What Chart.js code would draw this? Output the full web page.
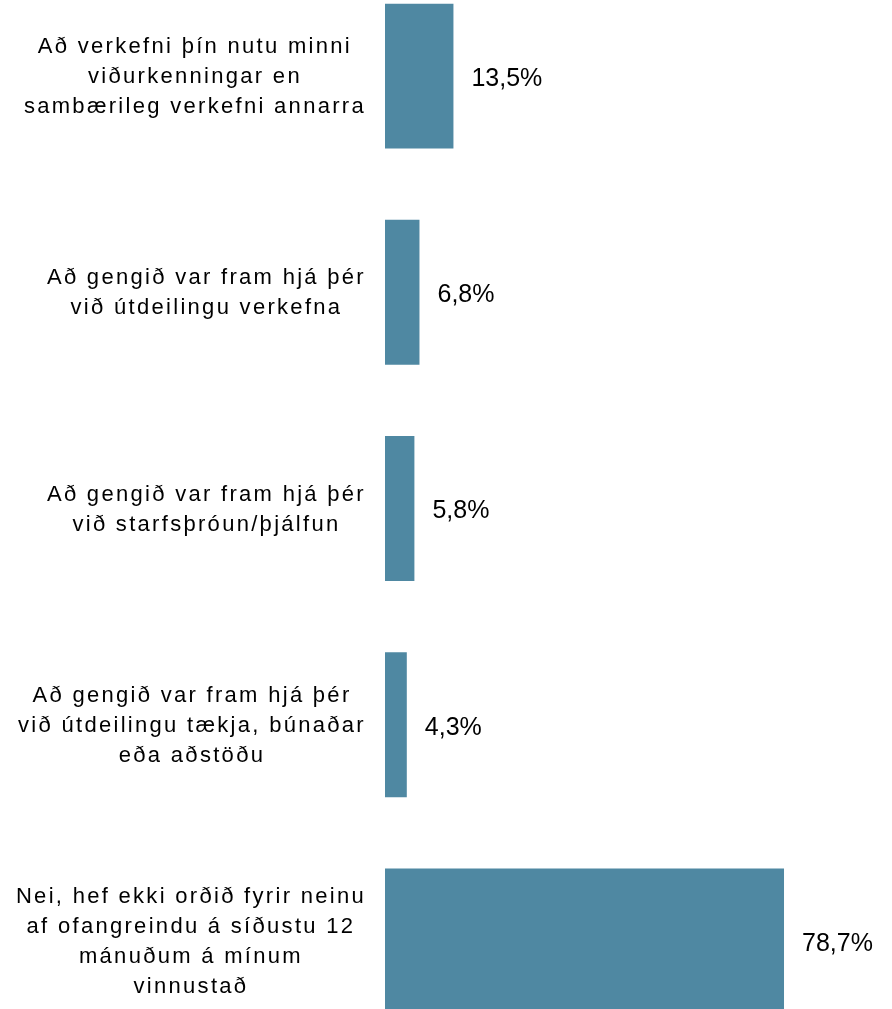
<!DOCTYPE html>
<html>
<head>
<meta charset="utf-8">
<script src="https://cdn.jsdelivr.net/npm/chart.js@4.4.1/dist/chart.umd.min.js"></script>
<style>
  html, body { margin: 0; padding: 0; background: #fff; overflow: hidden; }
  #wrap { position: absolute; left: 0; top: -32px; width: 892px; height: 1081px; }
</style>
</head>
<body>
<div id="wrap"><canvas id="chart"></canvas></div>
<script>
// categories, one array of lines per bar
const labels = [
  ['Að verkefni þín nutu minni', 'viðurkenningar en', 'sambærileg verkefni annarra'],
  ['Að gengið var fram hjá þér', 'við útdeilingu verkefna'],
  ['Að gengið var fram hjá þér', 'við starfsþróun/þjálfun'],
  ['Að gengið var fram hjá þér', 'við útdeilingu tækja, búnaðar', 'eða aðstöðu'],
  ['Nei, hef ekki orðið fyrir neinu', 'af ofangreindu á síðustu 12', 'mánuðum á mínum', 'vinnustað']
]
const values = [13.5, 6.8, 5.8, 4.3, 78.7]

const barColor = '#4f88a2'

function formatPct(v) {
  return v.toFixed(1).replace('.', ',') + '%'
}

// draws the category text (centered block, right edge near the bars) and value labels
const textPlugin = {
  id: 'textPlugin',
  afterDatasetsDraw(chart) {
    const ctx = chart.ctx
    const yScale = chart.scales.y
    const meta = chart.getDatasetMeta(0)
    ctx.save()
    ctx.fillStyle = '#000'
    ctx.textBaseline = 'middle'

    // category labels
    ctx.font = '22px "Liberation Sans", Arial, sans-serif'
    ctx.letterSpacing = '2.3px'
    ctx.textAlign = 'center'
    const lineHeight = 30
    labels.forEach((lines, i) => {
      const yc = yScale.getPixelForValue(i) + 1
      const widest = Math.max(...lines.map(l => ctx.measureText(l).width))
      const xc = yScale.right - 19 - widest / 2
      lines.forEach((line, j) => {
        ctx.fillText(line, xc, yc + (j - (lines.length - 1) / 2) * lineHeight)
      })
    })

    // value labels
    ctx.letterSpacing = '0px'
    ctx.font = '25px "Liberation Sans", Arial, sans-serif'
    ctx.textAlign = 'left'
    meta.data.forEach((bar, i) => {
      ctx.fillText(formatPct(values[i]), bar.x + 18, bar.y + 3)
    })
    ctx.restore()
  }
}

new Chart(document.getElementById('chart'), {
  type: 'bar',
  data: {
    labels: labels,
    datasets: [{
      data: values,
      backgroundColor: barColor,
      borderWidth: 0,
      categoryPercentage: 1,
      barPercentage: 0.67
    }]
  },
  options: {
    indexAxis: 'y',
    responsive: true,
    maintainAspectRatio: false,
    animation: false,
    layout: { padding: 0 },
    plugins: {
      legend: { display: false },
      tooltip: { enabled: false }
    },
    scales: {
      x: {
        display: false,
        min: 0,
        max: 100
      },
      y: {
        grid: { display: false, drawTicks: false },
        border: { display: false },
        ticks: { display: false },
        afterFit(scale) {
          scale.width = 385
        }
      }
    }
  },
  plugins: [textPlugin]
})
</script>
</body>
</html>
